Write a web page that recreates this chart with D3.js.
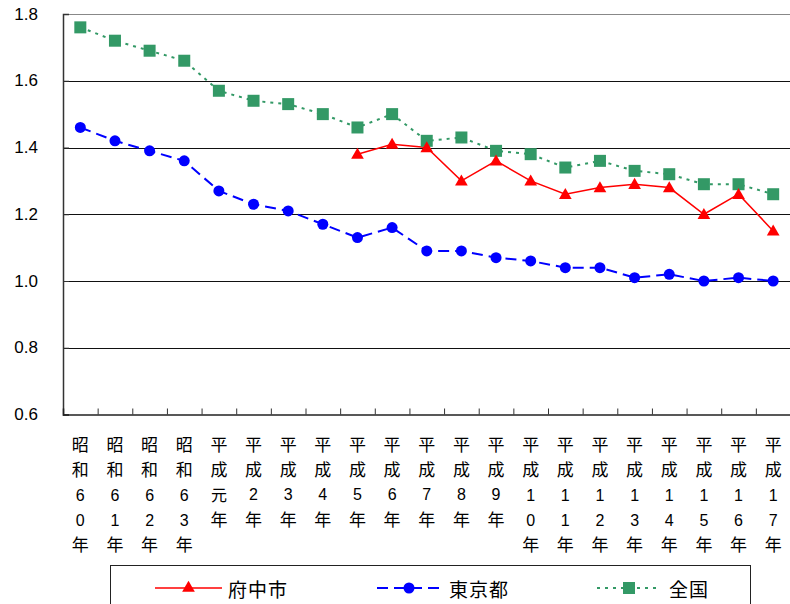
<!DOCTYPE html>
<html>
<head>
<meta charset="utf-8">
<script src="https://cdn.jsdelivr.net/npm/d3@7"></script>
<style>
  body { margin: 0; background: #fff; }
  svg { display: block; }
</style>
</head>
<body>
<script>
// categories (vertical labels, one character per line)
const categories = [
  "昭和60年", "昭和61年", "昭和62年", "昭和63年", "平成元年",
  "平成2年", "平成3年", "平成4年", "平成5年", "平成6年",
  "平成7年", "平成8年", "平成9年", "平成10年", "平成11年",
  "平成12年", "平成13年", "平成14年", "平成15年", "平成16年", "平成17年"
];
const fuchu = [null, null, null, null, null, null, null, null,
  1.38, 1.41, 1.40, 1.30, 1.36, 1.30, 1.26, 1.28, 1.29, 1.28, 1.20, 1.26, 1.15];
const tokyo = [1.46, 1.42, 1.39, 1.36, 1.27, 1.23, 1.21, 1.17, 1.13, 1.16,
  1.09, 1.09, 1.07, 1.06, 1.04, 1.04, 1.01, 1.02, 1.00, 1.01, 1.00];
const zenkoku = [1.76, 1.72, 1.69, 1.66, 1.57, 1.54, 1.53, 1.50, 1.46, 1.50,
  1.42, 1.43, 1.39, 1.38, 1.34, 1.36, 1.33, 1.32, 1.29, 1.29, 1.26];
const yTicks = [0.6, 0.8, 1.0, 1.2, 1.4, 1.6, 1.8];

const width = 790, height = 604;
const plotL = 63, plotR = 790.5, plotT = 14, plotB = 414.5;
const cjk = "'Noto Sans CJK JP', sans-serif";
const latin = "'Liberation Sans', Arial, sans-serif";

const svg = d3.select("body").append("svg")
  .attr("width", width).attr("height", height);

const x = d3.scaleBand().domain(d3.range(categories.length)).range([plotL, plotR]);
const y = d3.scaleLinear().domain([0.6, 1.8]).range([plotB, plotT]);
const cx = i => x(i) + x.bandwidth() / 2;

// top border of plot area
svg.append("line")
  .attr("x1", plotL).attr("x2", width).attr("y1", plotT + 0.5).attr("y2", plotT + 0.5)
  .attr("stroke", "#888").attr("stroke-width", 1.2);

// gridlines
svg.append("g").selectAll("line")
  .data(yTicks.filter(d => d > 0.6 && d < 1.8))
  .join("line")
  .attr("x1", plotL).attr("x2", plotR)
  .attr("y1", d => Math.round(y(d)) + 0.5).attr("y2", d => Math.round(y(d)) + 0.5)
  .attr("stroke", "#111").attr("stroke-width", 1.2);

// y axis
const yAxis = svg.append("g").attr("transform", `translate(${plotL},0)`)
  .call(d3.axisRight(y).tickValues(yTicks).tickSize(6).tickFormat(""));
yAxis.select(".domain").attr("stroke", "#333").attr("stroke-width", 1.5);
yAxis.selectAll(".tick line").attr("stroke", "#333");

svg.append("g").selectAll("text")
  .data(yTicks)
  .join("text")
  .attr("x", 38).attr("y", d => y(d))
  .attr("text-anchor", "end").attr("dominant-baseline", "central")
  .attr("font-family", latin)
  .attr("font-size", 17).attr("fill", "#000")
  .text(d => d.toFixed(1));

// x axis with ticks at category boundaries
const xb = d3.scaleLinear().domain([0, categories.length]).range([plotL, plotR]);
const xAxis = svg.append("g").attr("transform", `translate(0,${plotB})`)
  .call(d3.axisTop(xb).tickValues(d3.range(1, categories.length)).tickSize(6).tickFormat(""));
xAxis.select(".domain").attr("stroke", "#222").attr("stroke-width", 1.5);
xAxis.selectAll(".tick line").attr("stroke", "#333");

// vertical category labels: one character per row
const rows5 = [443, 468, 495, 520, 543];
const rows4 = [443, 468, 494, 518];
categories.forEach((c, i) => {
  const chars = Array.from(c);
  const rows = chars.length === 5 ? rows5 : rows4;
  svg.append("g").selectAll("text")
    .data(chars)
    .join("text")
    .attr("x", cx(i)).attr("y", (d, k) => rows[k])
    .attr("text-anchor", "middle").attr("dominant-baseline", "central")
    .attr("font-family", d => /\d/.test(d) ? latin : cjk)
    .attr("font-size", d => (/\d/.test(d) || d === "元") ? 16 : 17)
    .attr("fill", "#000")
    .text(d => d);
});

// series
const line = d3.line()
  .defined(d => d != null)
  .x((d, i) => cx(i)).y(d => y(d));

const tri = d3.symbol().type(d3.symbolTriangle).size(70);

svg.append("path").datum(zenkoku)
  .attr("d", line).attr("fill", "none")
  .attr("stroke", "#339966").attr("stroke-width", 2).attr("stroke-dasharray", "3,5");
svg.append("path").datum(tokyo)
  .attr("d", line).attr("fill", "none")
  .attr("stroke", "#0000ff").attr("stroke-width", 2).attr("stroke-dasharray", "11,6");
svg.append("path").datum(fuchu)
  .attr("d", line).attr("fill", "none")
  .attr("stroke", "#ff0000").attr("stroke-width", 1.5);

svg.append("g").selectAll("rect")
  .data(zenkoku).join("rect")
  .attr("x", (d, i) => cx(i) - 6).attr("y", d => y(d) - 6)
  .attr("width", 12).attr("height", 12).attr("fill", "#339966");

svg.append("g").selectAll("circle")
  .data(tokyo).join("circle")
  .attr("cx", (d, i) => cx(i)).attr("cy", d => y(d)).attr("r", 5.5)
  .attr("fill", "#0000ff");

svg.append("g").selectAll("path")
  .data(fuchu.map((d, i) => [d, i]).filter(p => p[0] != null)).join("path")
  .attr("d", tri)
  .attr("transform", p => `translate(${cx(p[1])},${y(p[0]) + 1})`)
  .attr("fill", "#ff0000");

// legend
svg.append("rect")
  .attr("x", 110.5).attr("y", 565.5).attr("width", 640).attr("height", 60)
  .attr("fill", "#fff").attr("stroke", "#222").attr("stroke-width", 1);

const ly = 588;
const legend = [
  { name: "府中市", x1: 155, x2: 222, color: "#ff0000", dash: null, w: 1.5, mark: "tri", text: 228 },
  { name: "東京都", x1: 377, x2: 443, color: "#0000ff", dash: "11,6", w: 2, mark: "circle", text: 449 },
  { name: "全国", x1: 597, x2: 661, color: "#339966", dash: "3,5", w: 2, mark: "rect", text: 669 }
];
legend.forEach(l => {
  svg.append("line")
    .attr("x1", l.x1).attr("x2", l.x2).attr("y1", ly).attr("y2", ly)
    .attr("stroke", l.color).attr("stroke-width", l.w)
    .attr("stroke-dasharray", l.dash);
  const mx = (l.x1 + l.x2) / 2;
  if (l.mark === "tri") {
    svg.append("path").attr("d", tri).attr("transform", `translate(${mx},${ly})`).attr("fill", l.color);
  } else if (l.mark === "circle") {
    svg.append("circle").attr("cx", mx - 1).attr("cy", ly).attr("r", 5.5).attr("fill", l.color);
  } else {
    svg.append("rect").attr("x", mx - 6).attr("y", ly - 6).attr("width", 12).attr("height", 12).attr("fill", l.color);
  }
  svg.append("text")
    .attr("x", l.text).attr("y", ly)
    .attr("dominant-baseline", "central")
    .attr("font-family", cjk).attr("font-size", 19).attr("fill", "#000")
    .attr("letter-spacing", 1)
    .text(l.name);
});
</script>
</body>
</html>
